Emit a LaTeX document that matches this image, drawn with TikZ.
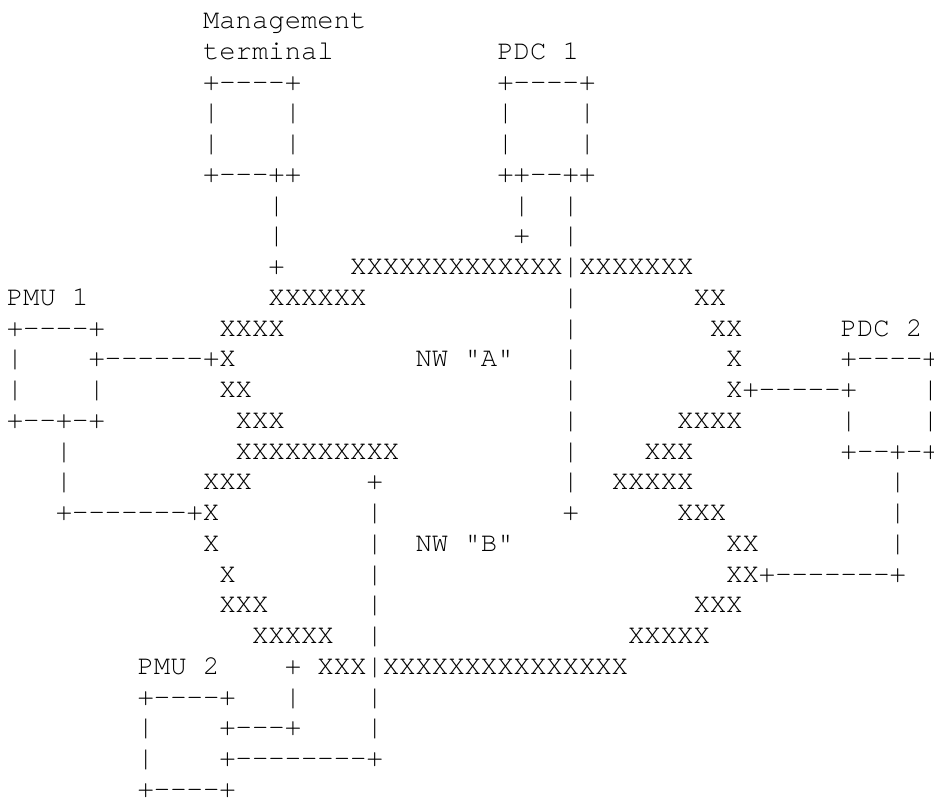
\documentclass[tikz,border=0pt]{standalone}
\usepackage{fontspec}
\setmonofont{TeX Gyre Cursor}
\tikzset{asc/.style={anchor=base west, inner sep=0pt, outer sep=0pt,
  font=\ttfamily\fontsize{27.25pt}{30.75pt}\selectfont}}

\begin{document}
\begin{tikzpicture}[x=16.35pt, y=-30.75pt]
\useasboundingbox (-0.416,-0.927) rectangle (56.71,25.02);
% labels
\node[asc] (mgmt) at (12,0) {Management};
\node[asc] (term) at (12,1) {terminal};
\node[asc] (pdc1) at (30,1) {PDC 1};
\node[asc] (pmu1) at (0,9) {PMU 1};
\node[asc] (pdc2) at (51,10) {PDC 2};
\node[asc] (nwa) at (25,11) {NW "A"};
\node[asc] (nwb) at (25,17) {NW "B"};
\node[asc] (pmu2) at (8,21) {PMU 2};
% boxes
\foreach \c in {12,17,30,35}
  \foreach \r in {3,4}
    \node[asc] (side\c-\r) at (\c,\r) {|};
\foreach \c/\r/\s [count=\k] in {12/2/+----+, 30/2/+----+,
  12/5/+---++, 30/5/++--++,
  0/10/+----+, 0/11/|, 0/12/|, 5/12/|, 0/13/+--+-+,
  51/11/+----+, 51/13/|, 56/12/|, 56/13/|, 51/14/+--+-+,
  8/22/+----+, 8/23/|, 8/24/|, 8/25/+----+}
  \node[asc] (box\k) at (\c,\r) {\s};
% links
\foreach \c/\r/\s [count=\k] in {16/6/|, 16/7/|, 16/8/+,
  31/6/|, 31/7/+, 34/6/|, 34/7/|,
  34/9/|, 34/10/|, 34/11/|, 34/12/|, 34/13/|, 34/14/|, 34/15/|, 34/16/+,
  5/11/+------+X, 44/12/X+-----+,
  3/14/|, 3/15/|, 3/16/+-------+X,
  54/15/|, 54/16/|, 54/17/|, 44/18/XX+-------+,
  22/15/+, 22/16/|, 22/17/|, 22/18/|, 22/19/|, 22/20/|,
  17/21/+, 17/22/|, 22/22/|, 13/23/+---+, 22/23/|, 13/24/+--------+}
  \node[asc] (link\k) at (\c,\r) {\s};
% networks
\foreach \c/\r/\s [count=\k] in {21/8/XXXXXXXXXXXXX|XXXXXXX,
  16/9/XXXXXX, 42/9/XX, 13/10/XXXX, 43/10/XX, 44/11/X, 13/12/XX,
  14/13/XXX, 41/13/XXXX, 14/14/XXXXXXXXXX, 39/14/XXX,
  12/15/XXX, 37/15/XXXXX, 41/16/XXX, 12/17/X, 44/17/XX,
  13/18/X, 13/19/XXX, 42/19/XXX, 15/20/XXXXX, 38/20/XXXXX,
  19/21/XXX|XXXXXXXXXXXXXXX}
  \node[asc] (nw\k) at (\c,\r) {\s};
\end{tikzpicture}
\end{document}
